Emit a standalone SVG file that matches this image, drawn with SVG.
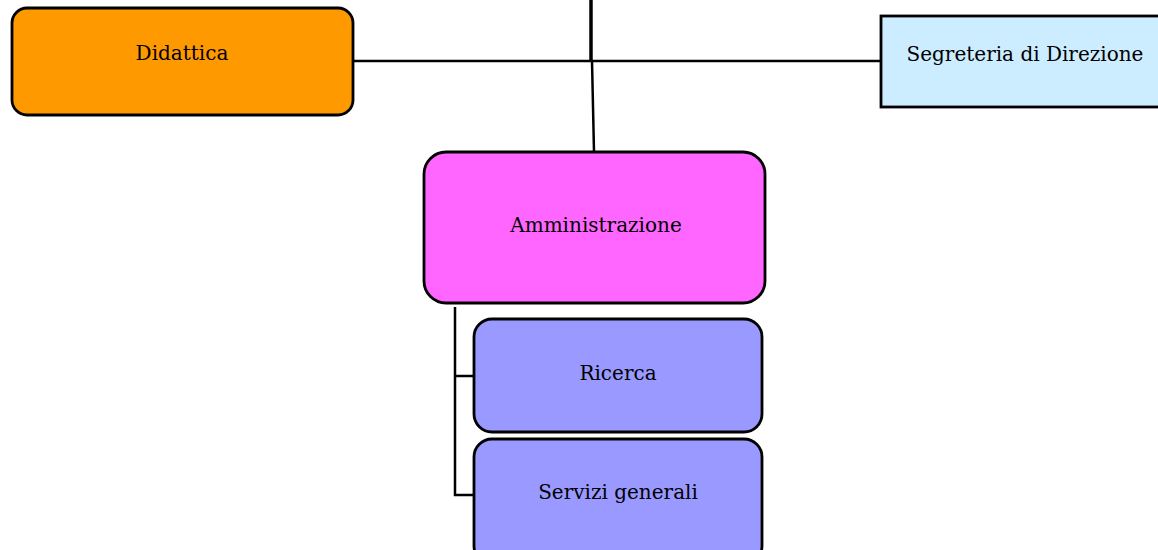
<svg xmlns="http://www.w3.org/2000/svg" width="1158" height="550" viewBox="0 0 1158 550">
<style>
.box{stroke:#000;stroke-width:2.8}
.ln{stroke:#000;stroke-width:2.5;fill:none}
text{font-family:"DejaVu Serif","Liberation Serif",serif;font-size:20px;fill:#000;text-anchor:middle}
</style>
<rect width="1158" height="550" fill="#fff"/>
<g id="connectors">
<line class="ln" x1="591" y1="0" x2="591" y2="61" style="stroke-width:3.5"/>
<line class="ln" x1="353" y1="61" x2="882" y2="61"/>
<line class="ln" x1="592" y1="61" x2="594" y2="152"/>
<polyline class="ln" points="455,307 455,495 474,495"/>
<line class="ln" x1="455" y1="376" x2="474" y2="376"/>
</g>
<g id="didattica">
<rect class="box" x="12" y="8" width="341" height="107" rx="15" fill="#FF9900"/>
<text x="182" y="60">Didattica</text>
</g>
<g id="segreteria">
<rect class="box" x="881" y="16" width="290" height="91" fill="#CCECFF"/>
<text x="1025" y="61">Segreteria di Direzione</text>
</g>
<g id="amministrazione">
<rect class="box" x="424" y="152" width="341" height="151" rx="22" fill="#FF66FF"/>
<text x="596" y="232">Amministrazione</text>
</g>
<g id="ricerca">
<rect class="box" x="474" y="319" width="288" height="113" rx="18" fill="#9999FF"/>
<text x="618" y="380">Ricerca</text>
</g>
<g id="servizi">
<rect class="box" x="474" y="439" width="288" height="125" rx="18" fill="#9999FF"/>
<text x="618" y="499">Servizi generali</text>
</g>
</svg>
